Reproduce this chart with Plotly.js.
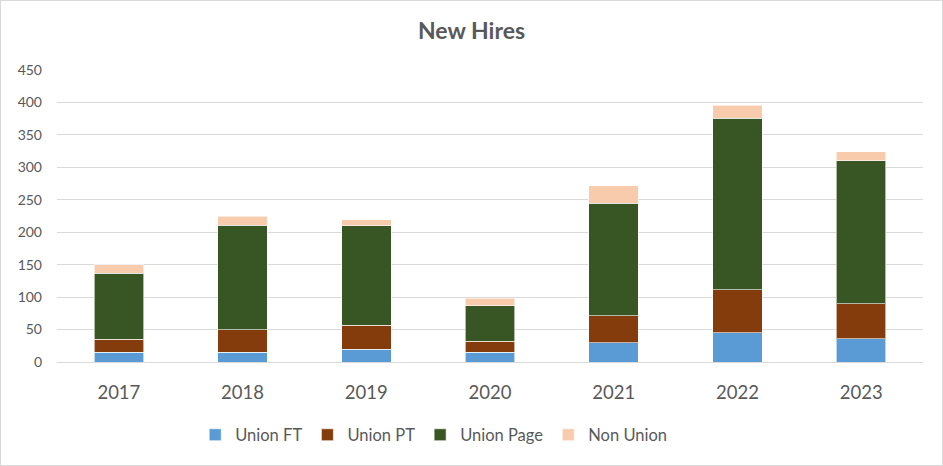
<!DOCTYPE html>
<html>
<head>
<meta charset="utf-8">
<script src="https://cdn.plot.ly/plotly-3.0.1.min.js"></script>
<style>
html,body{margin:0;padding:0;background:#fff;}
#chart{width:941px;height:464px;border:1px solid #D9D9D9;}
</style>
</head>
<body>
<div id="chart"></div>
<script>
const years = ['2017','2018','2019','2020','2021','2022','2023'];
const unionFT   = [15, 15, 20, 15, 30, 45, 36];
const unionPT   = [20, 35, 37, 17, 41, 66, 54];
const unionPage = [102, 161, 153, 55, 174, 265, 220];
const nonUnion  = [13, 14, 9, 11, 27, 20, 14];
const seriesNames = ['Union FT', 'Union PT', 'Union Page', 'Non Union'];
const seriesColors = ['#5B9BD5', '#843C0C', '#375623', '#F8CBAD'];
const seriesValues = [unionFT, unionPT, unionPage, nonUnion];

const traces = seriesValues.map((vals, i) => ({
  type: 'bar',
  name: seriesNames[i],
  x: years,
  y: vals,
  marker: {color: seriesColors[i], line: {color: 'rgba(255,255,255,0.6)', width: 1}},
  hoverinfo: 'x+y+name'
}));

const font = "Lato, 'Liberation Sans', sans-serif";
const layout = {
  width: 941, height: 464,
  barmode: 'stack',
  bargap: 0.6,
  margin: {l: 56, r: 19, t: 69, b: 103},
  paper_bgcolor: '#fff', plot_bgcolor: '#fff',
  font: {family: font, color: '#595959'},
  title: {text: '<b>New Hires</b>', x: 0.5, xanchor: 'center', y: 0.935, yanchor: 'middle',
          font: {size: 23, color: '#595959', family: font}},
  xaxis: {
    type: 'category',
    showgrid: false,
    showline: true, linecolor: '#D9D9D9', linewidth: 1,
    ticks: '', tickfont: {size: 18.5, color: '#595959'},
    ticklabelstandoff: 14
  },
  yaxis: {
    range: [0, 450], dtick: 50,
    showgrid: true, gridcolor: '#D9D9D9', gridwidth: 1,
    zeroline: false, showline: false,
    ticks: '', tickfont: {size: 14, color: '#595959'},
    ticklabelstandoff: 14
  },
  legend: {
    orientation: 'h', x: 0.435, xanchor: 'center', y: -0.25, yanchor: 'middle',
    font: {size: 16.5, color: '#595959'}, traceorder: 'normal'
  },
  showlegend: true
};

Plotly.newPlot('chart', traces, layout, {displayModeBar: false, staticPlot: true});
</script>
</body>
</html>
